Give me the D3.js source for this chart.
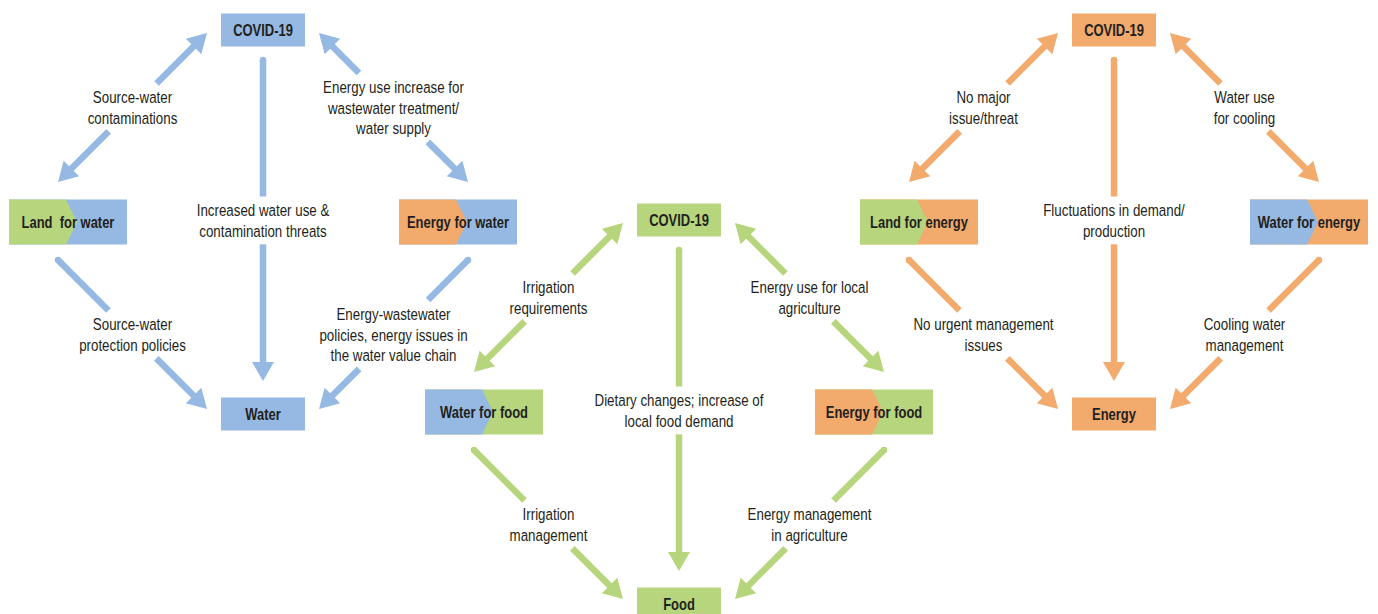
<!DOCTYPE html>
<html lang="en">
<head>
<meta charset="utf-8">
<title>COVID-19 and the water, food and energy nexus</title>
<script src="https://cdn.jsdelivr.net/npm/d3@7"></script>
<style>
	body { margin: 0; background: #fff; }
	text {
		font-family: "Liberation Sans", Arial, sans-serif;
		fill: #231f20;
	}
	.box_label { font-weight: bold; font-size: 16px; }
	.edge_label { font-size: 17px; }
</style>
</head>
<body>
<script>

var w = 1378;
var h = 614;

// the three diagrams, left to right
var groups = ["water", "food", "energy"];

// box slots in each diagram
var slots = ["top", "left", "right", "bottom"];

// box texts
var waterBoxes  = ["COVID-19", "Land  for water", "Energy for water", "Water"];
var foodBoxes   = ["COVID-19", "Water for food", "Energy for food", "Food"];
var energyBoxes = ["COVID-19", "Land for energy", "Water for energy", "Energy"];

// sectors shown in each box (left part, right part)
var waterSectors  = [["water"], ["land", "water"], ["energy", "water"], ["water"]];
var foodSectors   = [["food"], ["water", "food"], ["energy", "food"], ["food"]];
var energySectors = [["energy"], ["land", "energy"], ["water", "energy"], ["energy"]];

// links: from slot, to slot, two-way
var links = [
	["top", "left", true],
	["top", "right", true],
	["top", "bottom", false],
	["left", "bottom", false],
	["right", "bottom", false]
];

// link labels, same order as links
var waterLabels = [
	["Source-water", "contaminations"],
	["Energy use increase for", "wastewater treatment/", "water supply"],
	["Increased water use &", "contamination threats"],
	["Source-water", "protection policies"],
	["Energy-wastewater", "policies, energy issues in", "the water value chain"]
];
var foodLabels = [
	["Irrigation", "requirements"],
	["Energy use for local", "agriculture"],
	["Dietary changes; increase of", "local food demand"],
	["Irrigation", "management"],
	["Energy management", "in agriculture"]
];
var energyLabels = [
	["No major", "issue/threat"],
	["Water use", "for cooling"],
	["Fluctuations in demand/", "production"],
	["No urgent management", "issues"],
	["Cooling water", "management"]
];

var boxes   = { water: waterBoxes, food: foodBoxes, energy: energyBoxes };
var sectors = { water: waterSectors, food: foodSectors, energy: energySectors };
var labels  = { water: waterLabels, food: foodLabels, energy: energyLabels };

var sectorColor = { water: "#95b9e3", food: "#b6d57c", land: "#b6d57c", energy: "#f2aa6d" };

// layout scales
var groupX = d3.scaleOrdinal().domain(groups).range([263, 679, 1114]);
var groupY = d3.scaleOrdinal().domain(groups).range([0, 190, 0]);
var colX = d3.scalePoint().domain(["left", "center", "right"]).range([-195, 195]);
var rowY = d3.scalePoint().domain(["top", "middle", "bottom"]).range([30, 414]);

var slotCol = { top: "center", left: "left", right: "right", bottom: "center" };
var slotRow = { top: "top", left: "middle", right: "middle", bottom: "bottom" };
var side = { left: -1, right: 1, top: 0, bottom: 0 };

var lineW = 6.5;
var headL = 19;
var headW = 11;
var textSX = 0.785;   // condensed look
var boxSX = 0.81;

var svg = d3.select("body")
			.append("svg")
			.attr("width", w)
			.attr("height", h);

// endpoints of a link, relative to the diagram
function ends(pos, from, to) {
	var a = pos[from], b = pos[to];
	if (from == "top" && to == "bottom") {
		return [[a[0], a[1] + 30], [b[0], b[1] - 33]];
	}
	if (from == "top") {
		var s = side[to];
		return [[a[0] + s * 56, a[1] + 3], [b[0] + s * 10, b[1] - 40]];
	}
	var s2 = side[from];
	return [[a[0] + s2 * 10, a[1] + 38], [b[0] + s2 * 56, b[1] - 5]];
}

// parameter range where segment a-b is inside rect r
function clip(a, b, r) {
	var t0 = 0, t1 = 1;
	var dx = b[0] - a[0], dy = b[1] - a[1];
	var p = [-dx, dx, -dy, dy];
	var q = [a[0] - r.x0, r.x1 - a[0], a[1] - r.y0, r.y1 - a[1]];
	for (var i = 0; i < 4; i++) {
		if (p[i] === 0) {
			if (q[i] < 0) return null;
		} else {
			var t = q[i] / p[i];
			if (p[i] < 0) {
				if (t > t1) return null;
				if (t > t0) t0 = t;
			} else {
				if (t < t0) return null;
				if (t < t1) t1 = t;
			}
		}
	}
	return [t0, t1];
}

function lerp(a, b, t) {
	return [a[0] + (b[0] - a[0]) * t, a[1] + (b[1] - a[1]) * t];
}

function head(g, tip, from, color) {
	var dx = tip[0] - from[0], dy = tip[1] - from[1];
	var len = Math.sqrt(dx * dx + dy * dy);
	var ux = dx / len, uy = dy / len;
	var bx = tip[0] - ux * headL, by = tip[1] - uy * headL;
	g.append("polygon")
		.attr("points", [
			[tip[0], tip[1]],
			[bx - uy * headW, by + ux * headW],
			[bx + uy * headW, by - ux * headW]
		].map(function(p) { return p.join(","); }).join(" "))
		.attr("fill", color);
}

groups.forEach(function(grp) {

	var color = sectorColor[grp];
	var g = svg.append("g")
		.attr("transform", "translate(" + groupX(grp) + "," + groupY(grp) + ")");

	var pos = {};
	slots.forEach(function(s) {
		pos[s] = [colX(slotCol[s]), rowY(slotRow[s])];
	});

	// boxes
	slots.forEach(function(s, i) {
		var sec = sectors[grp][i];
		var bw = sec.length > 1 ? 118 : 84;
		var bh = sec.length > 1 ? 45 : 33;
		var x0 = pos[s][0] - bw / 2, y0 = pos[s][1] - bh / 2;
		var box = g.append("g");
		box.append("rect")
			.attr("x", x0)
			.attr("y", y0)
			.attr("width", bw)
			.attr("height", bh)
			.attr("fill", sectorColor[sec[sec.length - 1]]);
		if (sec.length > 1) {
			var xm = x0 + 57;
			box.append("polygon")
				.attr("points", [
					[x0, y0], [xm, y0], [xm + 11, y0 + bh / 2], [xm, y0 + bh], [x0, y0 + bh]
				].map(function(p) { return p.join(","); }).join(" "))
				.attr("fill", sectorColor[sec[0]]);
		}
		box.append("text")
			.attr("class", "box_label")
			.attr("transform", "translate(" + pos[s][0] + "," + (pos[s][1] + 5.5) + ") scale(" + boxSX + ",1)")
			.attr("text-anchor", "middle")
			.style("white-space", "pre")
			.text(boxes[grp][i]);
	});

	var arrows = g.append("g");
	var texts = g.append("g");

	links.forEach(function(l, i) {
		var e = ends(pos, l[0], l[1]);
		var a = e[0], b = e[1];
		var mid = lerp(a, b, 0.5);
		var lines = labels[grp][i];

		var t = texts.append("text")
			.attr("class", "edge_label")
			.attr("transform", "translate(" + mid[0] + "," + mid[1] + ") scale(" + textSX + ",1)")
			.attr("text-anchor", "middle");
		t.selectAll("tspan")
			.data(lines)
			.enter()
			.append("tspan")
			.attr("x", 0)
			.attr("y", function(d, j) {
				return (j - (lines.length - 1) / 2) * 21 + 6;
			})
			.text(function(d) { return d; });

		var bb = t.node().getBBox();
		var pad = 4;
		var gap = clip(a, b, {
			x0: mid[0] + bb.x * textSX - pad,
			x1: mid[0] + (bb.x + bb.width) * textSX + pad,
			y0: mid[1] + bb.y - pad,
			y1: mid[1] + bb.y + bb.height + pad
		});

		var len = Math.sqrt(Math.pow(b[0] - a[0], 2) + Math.pow(b[1] - a[1], 2));
		var ts = l[2] ? (headL - 2) / len : 0;
		var te = 1 - (headL - 2) / len;
		var parts = gap ? [[ts, gap[0]], [gap[1], te]] : [[ts, te]];

		parts.forEach(function(p) {
			if (p[1] <= p[0]) return;
			var p0 = lerp(a, b, p[0]), p1 = lerp(a, b, p[1]);
			arrows.append("line")
				.attr("x1", p0[0]).attr("y1", p0[1])
				.attr("x2", p1[0]).attr("y2", p1[1])
				.attr("stroke", color)
				.attr("stroke-width", lineW);
		});

		head(arrows, b, a, color);
		if (l[2]) {
			head(arrows, a, b, color);
		} else {
			arrows.append("circle")
				.attr("cx", a[0]).attr("cy", a[1])
				.attr("r", lineW / 2)
				.attr("fill", color);
		}
	});
});

</script>
</body>
</html>
